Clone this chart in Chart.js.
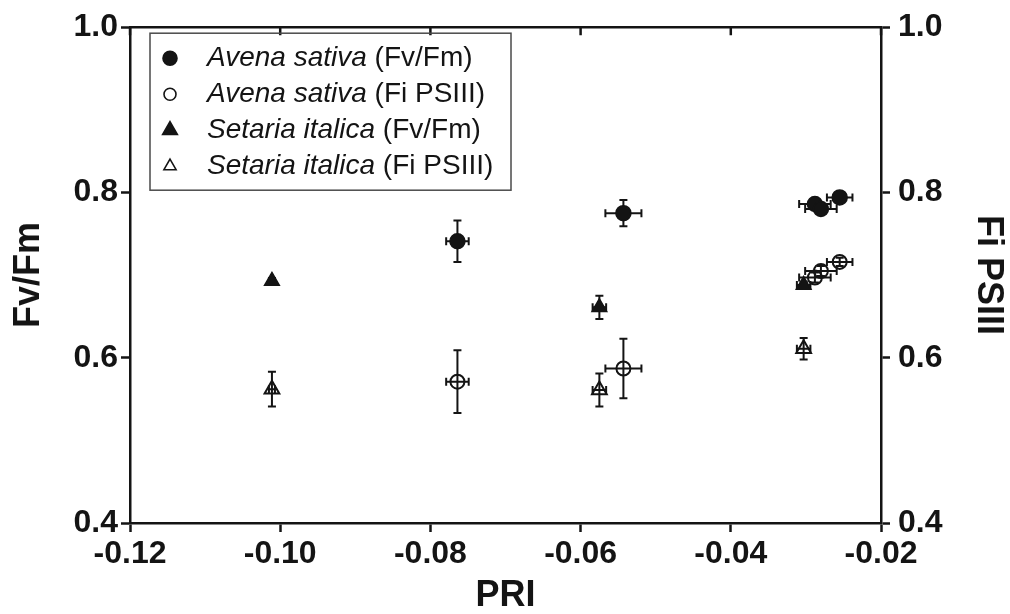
<!DOCTYPE html>
<html>
<head>
<meta charset="utf-8">
<title>PRI vs Fv/Fm and Fi PSIII</title>
<script src="https://cdn.jsdelivr.net/npm/chart.js@4.4.1/dist/chart.umd.min.js"></script>
<style>
  html, body { margin: 0; padding: 0; background: #fff; }
  #wrap { width: 1010px; height: 614px; position: relative; }
</style>
</head>
<body>
<div id="wrap"><canvas id="priChart" width="1010" height="614"></canvas></div>
<script>
// Avena sativa: PRI (x) with Fv/Fm and Fi PSIII (y), mean +/- error
const avenaPRI = [-0.0764, -0.0543, -0.0288, -0.0280, -0.0255];
const avenaPRIErr = [0.0015, 0.0024, 0.0021, 0.0021, 0.0017];
const avenaFvFm = [0.741, 0.775, 0.786, 0.780, 0.794];
const avenaFvFmErr = [0.025, 0.016, 0.005, 0.005, 0.005];
const avenaFi = [0.571, 0.587, 0.697, 0.705, 0.716];
const avenaFiErr = [0.038, 0.036, 0.006, 0.006, 0.005];

// Setaria italica
const setariaPRI = [-0.1011, -0.0575, -0.0303];
const setariaPRIErr = [0.0004, 0.0009, 0.0009];
const setariaFvFm = [0.693, 0.661, 0.688];
const setariaFvFmErr = [0.003, 0.014, 0.004];
const setariaFi = [0.562, 0.561, 0.611];
const setariaFiErr = [0.021, 0.020, 0.013];

const xTicks = [-0.12, -0.10, -0.08, -0.06, -0.04, -0.02];
const yTicks = [0.4, 0.6, 0.8, 1.0];

const FONT = "'Liberation Sans', Arial, Helvetica, sans-serif";
const INK = '#141414';

function points(xs, xe, ys, ye) {
  return xs.map((x, i) => ({ x: x, y: ys[i], xErr: xe[i], yErr: ye[i] }));
}

// error bars drawn through the chart's own scales
const errorBars = {
  id: 'errorBars',
  beforeDatasetsDraw(chart) {
    const ctx = chart.ctx;
    const xs = chart.scales.x;
    const cap = 4;
    ctx.save();
    ctx.strokeStyle = INK;
    ctx.lineWidth = 2;
    chart.data.datasets.forEach(ds => {
      const ys = chart.scales[ds.yAxisID];
      ds.data.forEach(p => {
        const px = xs.getPixelForValue(p.x);
        const py = ys.getPixelForValue(p.y);
        const xl = xs.getPixelForValue(p.x - p.xErr);
        const xr = xs.getPixelForValue(p.x + p.xErr);
        const yt = ys.getPixelForValue(p.y + p.yErr);
        const yb = ys.getPixelForValue(p.y - p.yErr);
        ctx.beginPath();
        ctx.moveTo(xl, py); ctx.lineTo(xr, py);
        ctx.moveTo(xl, py - cap); ctx.lineTo(xl, py + cap);
        ctx.moveTo(xr, py - cap); ctx.lineTo(xr, py + cap);
        ctx.moveTo(px, yt); ctx.lineTo(px, yb);
        ctx.moveTo(px - cap, yt); ctx.lineTo(px + cap, yt);
        ctx.moveTo(px - cap, yb); ctx.lineTo(px + cap, yb);
        ctx.stroke();
      });
    });
    ctx.restore();
  }
};

// top border with inward ticks
const topFrame = {
  id: 'topFrame',
  afterDraw(chart) {
    const ctx = chart.ctx;
    const area = chart.chartArea;
    const xs = chart.scales.x;
    ctx.save();
    ctx.strokeStyle = INK;
    ctx.lineWidth = 2.5;
    ctx.beginPath();
    ctx.moveTo(area.left - 1, area.top);
    ctx.lineTo(area.right + 1, area.top);
    xTicks.forEach(v => {
      const px = xs.getPixelForValue(v);
      ctx.moveTo(px, area.top);
      ctx.lineTo(px, area.top + 8);
    });
    ctx.stroke();
    ctx.restore();
  }
};

function drawMarker(ctx, style, filled, r, x, y) {
  ctx.beginPath();
  if (style === 'circle') {
    ctx.arc(x, y, r, 0, Math.PI * 2);
  } else {
    ctx.moveTo(x, y - r);
    ctx.lineTo(x + r * Math.sin(Math.PI / 3), y + r / 2);
    ctx.lineTo(x - r * Math.sin(Math.PI / 3), y + r / 2);
    ctx.closePath();
  }
  if (filled) { ctx.fillStyle = INK; ctx.fill(); }
  ctx.strokeStyle = INK;
  ctx.lineWidth = 1.6;
  ctx.stroke();
}

// legend with italic species names
const speciesLegend = {
  id: 'speciesLegend',
  afterDraw(chart) {
    const ctx = chart.ctx;
    const area = chart.chartArea;
    const bx = area.left + 20, by = area.top + 6, bw = 361, bh = 157;
    ctx.save();
    ctx.strokeStyle = '#4a4a4a';
    ctx.lineWidth = 1.5;
    ctx.strokeRect(bx, by, bw, bh);
    ctx.textBaseline = 'middle';
    ctx.fillStyle = INK;
    chart.data.datasets.forEach((ds, i) => {
      const cy = by + 25 + i * 36;
      drawMarker(ctx, ds.pointStyle, ds.filled, ds.legendRadius, bx + 20, cy);
      ctx.fillStyle = INK;
      ctx.font = 'italic 28px ' + FONT;
      ctx.fillText(ds.species, bx + 57, cy);
      const w = ctx.measureText(ds.species + ' ').width;
      ctx.font = '28px ' + FONT;
      ctx.fillText(ds.variable, bx + 57 + w, cy);
    });
    ctx.restore();
  }
};

const tickFont = { family: FONT, size: 32, weight: 'bold' };
const titleFont = { family: FONT, size: 36, weight: 'bold' };

function yAxis(position, title, width, tickPad, titlePad) {
  return {
    type: 'linear',
    position: position,
    min: 0.4,
    max: 1.0,
    afterBuildTicks: s => { s.ticks = yTicks.map(v => ({ value: v })); },
    afterFit: s => { s.width = width; },
    grid: { drawOnChartArea: false, tickLength: 9, tickWidth: 2.5, tickColor: INK },
    border: { display: true, color: INK, width: 2.5 },
    ticks: { color: INK, font: tickFont, padding: tickPad, callback: v => v.toFixed(1) },
    title: { display: true, text: title, color: INK, font: titleFont, padding: { top: titlePad, bottom: titlePad } }
  };
}

new Chart(document.getElementById('priChart'), {
  type: 'scatter',
  data: {
    datasets: [
      {
        label: 'Avena sativa (Fv/Fm)', species: 'Avena sativa', variable: '(Fv/Fm)',
        data: points(avenaPRI, avenaPRIErr, avenaFvFm, avenaFvFmErr),
        yAxisID: 'y', pointStyle: 'circle', filled: true, legendRadius: 7,
        pointRadius: 7.5, backgroundColor: INK, borderColor: INK, borderWidth: 1.5
      },
      {
        label: 'Avena sativa (Fi PSIII)', species: 'Avena sativa', variable: '(Fi PSIII)',
        data: points(avenaPRI, avenaPRIErr, avenaFi, avenaFiErr),
        yAxisID: 'y2', pointStyle: 'circle', filled: false, legendRadius: 6,
        pointRadius: 7, backgroundColor: 'rgba(0,0,0,0)', borderColor: INK, borderWidth: 2
      },
      {
        label: 'Setaria italica (Fv/Fm)', species: 'Setaria italica', variable: '(Fv/Fm)',
        data: points(setariaPRI, setariaPRIErr, setariaFvFm, setariaFvFmErr),
        yAxisID: 'y', pointStyle: 'triangle', filled: true, legendRadius: 8.5,
        pointRadius: 8.5, backgroundColor: INK, borderColor: INK, borderWidth: 1.5
      },
      {
        label: 'Setaria italica (Fi PSIII)', species: 'Setaria italica', variable: '(Fi PSIII)',
        data: points(setariaPRI, setariaPRIErr, setariaFi, setariaFiErr),
        yAxisID: 'y2', pointStyle: 'triangle', filled: false, legendRadius: 7,
        pointRadius: 8.5, backgroundColor: 'rgba(0,0,0,0)', borderColor: INK, borderWidth: 2
      }
    ]
  },
  plugins: [errorBars, topFrame, speciesLegend],
  options: {
    responsive: false,
    animation: false,
    layout: { padding: { top: 26, right: 0, bottom: 0, left: 0 } },
    plugins: {
      legend: { display: false },
      tooltip: { enabled: false }
    },
    scales: {
      x: {
        type: 'linear',
        position: 'bottom',
        min: -0.12,
        max: -0.02,
        afterBuildTicks: s => { s.ticks = xTicks.map(v => ({ value: v })); },
        afterFit: s => { s.height = 91; },
        grid: { drawOnChartArea: false, tickLength: 9, tickWidth: 2.5, tickColor: INK },
        border: { display: true, color: INK, width: 2.5 },
        ticks: { color: INK, font: tickFont, padding: 3, maxRotation: 0, callback: v => v.toFixed(2) },
        title: { display: true, text: 'PRI', color: INK, font: titleFont, padding: { top: 0, bottom: -4 } }
      },
      y: yAxis('left', 'Fv/Fm', 130, 3, 7),
      y2: yAxis('right', 'Fi PSIII', 129, 8, 0)
    }
  }
});
</script>
</body>
</html>
